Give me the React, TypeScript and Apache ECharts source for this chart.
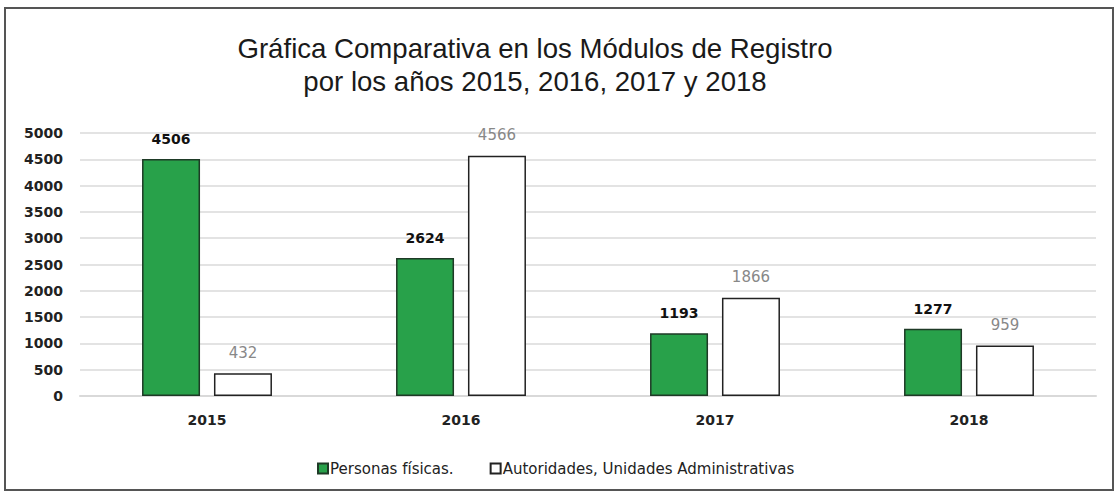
import React, { useEffect, useRef } from "react";
import * as echarts from "echarts";

const categories = ["2015", "2016", "2017", "2018"];
const personasFisicas = [4506, 2624, 1193, 1277];
const autoridades = [432, 4566, 1866, 959];
const seriesNames = ["Personas físicas.", "Autoridades, Unidades Administrativas"];
const titleLines = ["Gráfica Comparativa en los Módulos de Registro", "por los años 2015, 2016, 2017 y 2018"];

export default function App() {
  const ref = useRef<HTMLDivElement>(null);
  useEffect(() => {
    const chart = echarts.init(ref.current!, null, { renderer: "svg" });
    const font = "'Liberation Sans', Arial, sans-serif";
    const small = "'DejaVu Sans', sans-serif";
    chart.setOption({
      animation: false,
      backgroundColor: "#ffffff",
      textStyle: { fontFamily: small },
      title: {
        text: titleLines.join("\n"),
        left: 530,
        top: 27,
        textAlign: "center",
        textStyle: { fontSize: 27.6, fontWeight: "normal", color: "#1a1a1a", lineHeight: 33, fontFamily: font },
      },
      graphic: [
        {
          type: "rect",
          shape: { x: 5, y: 8, width: 1108, height: 482 },
          style: { fill: "none", stroke: "#555", lineWidth: 2 },
          silent: true,
        },
      ],
      legend: {
        data: seriesNames,
        left: 312,
        top: 456,
        itemWidth: 10,
        itemHeight: 10,
        itemGap: 36,
        icon: "rect",
        textStyle: { fontSize: 15, color: "#222", fontFamily: small, padding: [0, 0, 0, -3] },
      },
      grid: { left: 80, right: 23, top: 133, bottom: 99, containLabel: false },
      xAxis: {
        type: "category",
        data: categories,
        axisLine: { show: true, lineStyle: { color: "#d9d9d9", width: 2 } },
        axisTick: { show: false },
        axisLabel: { fontSize: 14, fontWeight: "bold", color: "#222", margin: 17, fontFamily: small },
      },
      yAxis: {
        type: "value",
        min: 0,
        max: 5000,
        interval: 500,
        axisLine: { show: false },
        axisTick: { show: false },
        splitLine: { lineStyle: { color: "#e3e3e3", width: 2 } },
        axisLabel: {
          fontSize: 14,
          fontWeight: "bold",
          color: "#222",
          margin: 17,
          fontFamily: small,
          formatter: (v: number) => String(v),
        },
      },
      series: [
        {
          name: seriesNames[0],
          type: "bar",
          data: personasFisicas,
          barWidth: 58,
          barGap: "24%",
          itemStyle: { color: "#28a14a", borderColor: "#1e3a26", borderWidth: 1.5 },
          label: { show: true, position: "top", distance: 13, fontSize: 14, fontWeight: "bold", color: "#111", fontFamily: small },
        },
        {
          name: seriesNames[1],
          type: "bar",
          data: autoridades,
          barWidth: 58,
          itemStyle: { color: "#ffffff", borderColor: "#222", borderWidth: 1.5 },
          label: { show: true, position: "top", distance: 13, fontSize: 15, color: "#888", fontFamily: small },
        },
      ],
    });
    return () => chart.dispose();
  }, []);
  return <div ref={ref} style={{ position: "absolute", left: 0, top: 0, width: 1119, height: 495 }} />;
}
